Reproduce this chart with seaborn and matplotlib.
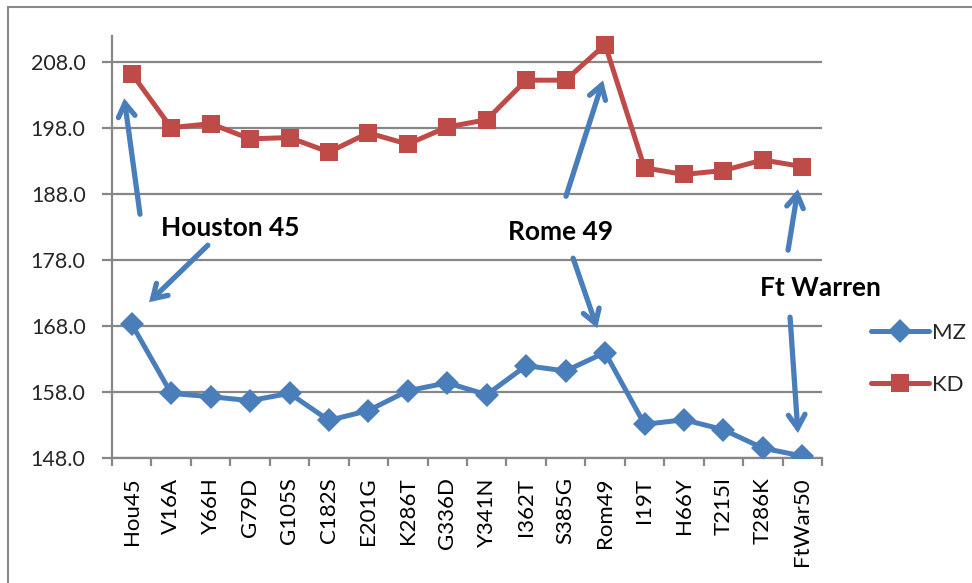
import matplotlib
matplotlib.use("Agg")
import matplotlib.pyplot as plt
import matplotlib.ticker as mticker
from matplotlib.patches import Rectangle
import numpy as np
import pandas as pd
import seaborn as sns

# Data
variants = ["Hou45", "V16A", "Y66H", "G79D", "G105S", "C182S", "E201G", "K286T",
            "G336D", "Y341N", "I362T", "S385G", "Rom49", "I19T", "H66Y", "T215I",
            "T286K", "FtWar50"]
mz = [168.3, 157.8, 157.3, 156.7, 157.8, 153.7, 155.2, 158.2, 159.4, 157.6,
      162.0, 161.2, 164.0, 153.1, 153.8, 152.3, 149.5, 148.3]
kd = [206.3, 198.1, 198.7, 196.4, 196.6, 194.4, 197.3, 195.6, 198.2, 199.3,
      205.3, 205.3, 210.7, 192.0, 191.0, 191.6, 193.2, 192.2]
yticks = [148, 158, 168, 178, 188, 198, 208]

# annotation labels: (text, text position, [(arrow start, arrow tip), ...])
notes = [
    ("Houston 45", (2.51, 182.85), [((0.21, 184.97), (-0.19, 202.55)),
                                    ((1.93, 180.27), (0.44, 171.64))]),
    ("Rome 49", (10.86, 182.24), [((11.01, 187.70), (11.95, 205.27)),
                                  ((11.19, 178.30), (11.80, 167.70))]),
    ("Ft Warren", (17.45, 173.76), [((16.64, 179.52), (16.89, 188.76)),
                                    ((16.69, 169.36), (16.89, 151.79))]),
]

blue = "#4A7EBB"
red = "#BE4B48"
grey = "#878787"

df = pd.DataFrame({
    "pos": np.concatenate([np.arange(len(variants))] * 2),
    "value": mz + kd,
    "series": ["MZ"] * len(mz) + ["KD"] * len(kd),
})

sns.set_theme(style="white")
plt.rcParams["font.family"] = ["Lato", "DejaVu Sans"]

fig = plt.figure(figsize=(9.72, 5.83), dpi=100)
ax = fig.add_axes([112 / 972, 125 / 583, 710 / 972, 422 / 583])

sns.lineplot(data=df, x="pos", y="value", hue="series", style="series",
             hue_order=["MZ", "KD"], style_order=["MZ", "KD"],
             palette={"MZ": blue, "KD": red}, markers={"MZ": "D", "KD": "s"},
             dashes=False, linewidth=3.6, markersize=12.5, markeredgewidth=0,
             ax=ax, zorder=3)

ax.set_xlim(-0.5, len(variants) - 0.5)
ax.set_ylim(148, 212)
ax.set_yticks(yticks)
ax.yaxis.set_major_formatter(mticker.FormatStrFormatter("%.1f"))
ax.set_xticks(np.arange(len(variants)))
ax.set_xticklabels(variants, rotation=90)
ax.set_xticks(np.arange(len(variants) + 1) - 0.5, minor=True)
ax.tick_params(axis="x", which="major", length=0, pad=14, labelsize=16, colors="black")
ax.tick_params(axis="x", which="minor", length=6, width=1.6, color=grey, direction="out", bottom=True)
ax.tick_params(axis="y", length=7, width=1.6, color=grey, pad=12, labelsize=15.5, left=True)
ax.grid(axis="y", color=grey, linewidth=1.6)
ax.set_axisbelow(True)
for side in ["top", "right"]:
    ax.spines[side].set_visible(False)
for side in ["left", "bottom"]:
    ax.spines[side].set_color(grey)
    ax.spines[side].set_linewidth(1.6)
ax.set_xlabel("")
ax.set_ylabel("")

for text, tpos, arrows in notes:
    ax.text(tpos[0], tpos[1], text, ha="center", va="center", fontsize=19,
            fontweight="bold", color="black", clip_on=False)
    for start, tip in arrows:
        ax.annotate("", xy=tip, xytext=start, annotation_clip=False,
                    arrowprops=dict(arrowstyle="->,head_length=0.8,head_width=0.5",
                                    color=blue, lw=3.8, shrinkA=0, shrinkB=0,
                                    capstyle="round", joinstyle="miter"))

leg = ax.legend(loc="center left", bbox_to_anchor=(860 / 972, 224 / 583),
                bbox_transform=fig.transFigure, frameon=False, fontsize=16,
                handlelength=2.6, handletextpad=0.15, labelspacing=1.45, borderpad=0)
for h in leg.legend_handles:
    h.set_linewidth(3.6)

# chart-area border as in the original spreadsheet export
fig.patches.append(Rectangle((8 / 972, -0.1), 1.2, (583 - 7) / 583 + 0.1,
                             transform=fig.transFigure, fill=False,
                             edgecolor="#898989", linewidth=1.5))

fig.savefig("out.png", dpi=100)
